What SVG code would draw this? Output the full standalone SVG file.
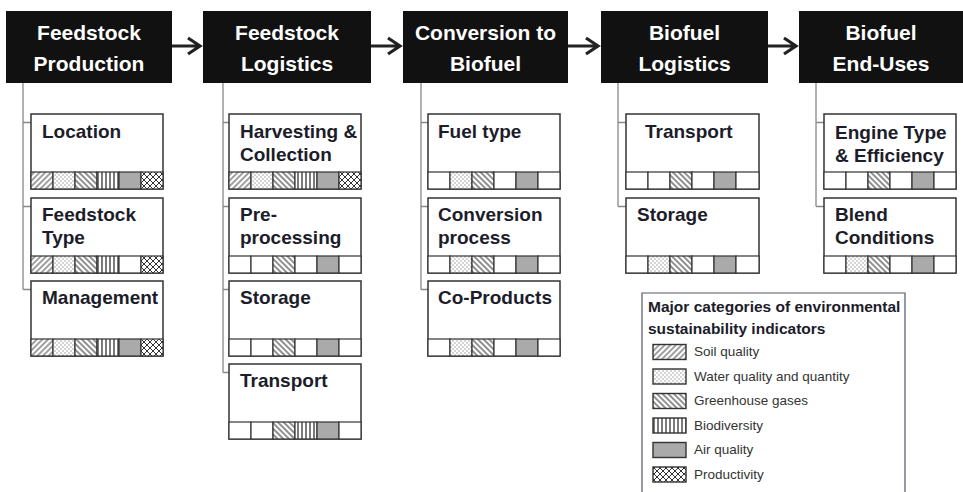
<svg xmlns="http://www.w3.org/2000/svg" width="963" height="492" viewBox="0 0 963 492">
<style>
.hdr{fill:#111}
.ht{font-family:"Liberation Sans",Arial,sans-serif;font-weight:bold;font-size:21px;fill:#fff;text-anchor:middle}
.box{fill:#fff;stroke:#333;stroke-width:1.5}
.lt{font-family:"Liberation Sans",Arial,sans-serif;font-weight:bold;font-size:19px;fill:#1c1c2a}
.c{stroke:#333;stroke-width:1.2}
.e{fill:#fff}
.S{fill:url(#soil)}
.W{fill:url(#water)}
.G{fill:url(#ghg)}
.B{fill:url(#bio)}
.A{fill:#aaa}
.P{fill:url(#prod)}
.con{fill:none;stroke:#888;stroke-width:1.3}
.arr{fill:none;stroke:#222;stroke-width:3.2}
.legt{font-family:"Liberation Sans",Arial,sans-serif;font-weight:bold;font-size:15.5px;fill:#1c1c2a}
.li{font-family:"Liberation Sans",Arial,sans-serif;font-size:13.5px;fill:#333}
.sw{stroke:#333;stroke-width:1.4}
</style>
<defs>
<pattern id="soil" patternUnits="userSpaceOnUse" width="4" height="4" patternTransform="rotate(45)">
<rect width="4" height="4" fill="#fff"/><line x1="2" y1="0" x2="2" y2="4" stroke="#777" stroke-width="1.4"/>
</pattern>
<pattern id="ghg" patternUnits="userSpaceOnUse" width="4" height="4" patternTransform="rotate(-45)">
<rect width="4" height="4" fill="#fff"/><line x1="2" y1="0" x2="2" y2="4" stroke="#555" stroke-width="1.3"/>
</pattern>
<pattern id="water" patternUnits="userSpaceOnUse" width="4" height="4">
<rect width="4" height="4" fill="#fff"/><circle cx="1" cy="1" r="0.7" fill="#888"/><circle cx="3" cy="3" r="0.7" fill="#888"/>
</pattern>
<pattern id="bio" patternUnits="userSpaceOnUse" width="4" height="4">
<rect width="4" height="4" fill="#fff"/><line x1="2" y1="0" x2="2" y2="4" stroke="#333" stroke-width="1.3"/>
</pattern>
<pattern id="prod" patternUnits="userSpaceOnUse" width="6" height="6">
<rect width="6" height="6" fill="#fff"/><path d="M0,0L6,6M6,0L0,6" stroke="#333" stroke-width="1"/>
</pattern>
</defs>
<rect width="963" height="492" fill="#fff"/>

<g id="connectors">
<path class="arr" d="M172,46H199M188,38L200,46L188,54"/>
<path class="arr" d="M371,46H399M388,38L400,46L388,54"/>
<path class="arr" d="M568,46H597M586,38L598,46L586,54"/>
<path class="arr" d="M768,46H795M784,38L796,46L784,54"/>
<path class="con" d="M23,83V289.5M23,122.5H39M23,206.5H39M23,289.5H39"/>
<path class="con" d="M223,83V372.5M223,122.5H237M223,206.5H237M223,289.5H237M223,372.5H237"/>
<path class="con" d="M421,83V289.5M421,122.5H436M421,206.5H436M421,289.5H436"/>
<path class="con" d="M618,83V206.5M618,122.5H634M618,206.5H634"/>
<path class="con" d="M816,83V206.5M816,122.5H832M816,206.5H832"/>
</g>

<g id="h1"><rect class="hdr" x="6" y="11" width="166" height="72"/><text class="ht" x="89" y="39.5">Feedstock</text><text class="ht" x="89" y="70.5">Production</text></g>
<g id="h2"><rect class="hdr" x="203" y="11" width="168" height="72"/><text class="ht" x="287" y="39.5">Feedstock</text><text class="ht" x="287" y="70.5">Logistics</text></g>
<g id="h3"><rect class="hdr" x="403" y="11" width="165" height="72"/><text class="ht" x="485.5" y="39.5">Conversion to</text><text class="ht" x="485.5" y="70.5">Biofuel</text></g>
<g id="h4"><rect class="hdr" x="601" y="11" width="167" height="72"/><text class="ht" x="684.5" y="39.5">Biofuel</text><text class="ht" x="684.5" y="70.5">Logistics</text></g>
<g id="h5"><rect class="hdr" x="799" y="11" width="164" height="72"/><text class="ht" x="881" y="39.5">Biofuel</text><text class="ht" x="881" y="70.5">End-Uses</text></g>

<!-- Column 1 -->
<g id="location"><rect class="box" x="31" y="114" width="132" height="75"/><text class="lt" x="42" y="138">Location</text>
<rect class="c S" x="31" y="172" width="22" height="17"/><rect class="c W" x="53" y="172" width="22" height="17"/><rect class="c G" x="75" y="172" width="22" height="17"/><rect class="c B" x="97" y="172" width="22" height="17"/><rect class="c A" x="119" y="172" width="22" height="17"/><rect class="c P" x="141" y="172" width="22" height="17"/></g>
<g id="feedstock-type"><rect class="box" x="31" y="198" width="132" height="75"/><text class="lt" x="42" y="220.5">Feedstock</text><text class="lt" x="42" y="243.5">Type</text>
<rect class="c S" x="31" y="256" width="22" height="17"/><rect class="c W" x="53" y="256" width="22" height="17"/><rect class="c G" x="75" y="256" width="22" height="17"/><rect class="c B" x="97" y="256" width="22" height="17"/><rect class="c e" x="119" y="256" width="22" height="17"/><rect class="c P" x="141" y="256" width="22" height="17"/></g>
<g id="management"><rect class="box" x="31" y="281" width="132" height="75"/><text class="lt" x="42" y="303.5">Management</text>
<rect class="c S" x="31" y="339" width="22" height="17"/><rect class="c W" x="53" y="339" width="22" height="17"/><rect class="c G" x="75" y="339" width="22" height="17"/><rect class="c B" x="97" y="339" width="22" height="17"/><rect class="c A" x="119" y="339" width="22" height="17"/><rect class="c P" x="141" y="339" width="22" height="17"/></g>

<!-- Column 2 -->
<g id="harvesting"><rect class="box" x="229" y="114" width="132" height="75"/><text class="lt" x="240" y="138">Harvesting &amp;</text><text class="lt" x="240" y="160.5">Collection</text>
<rect class="c S" x="229" y="172" width="22" height="17"/><rect class="c W" x="251" y="172" width="22" height="17"/><rect class="c G" x="273" y="172" width="22" height="17"/><rect class="c B" x="295" y="172" width="22" height="17"/><rect class="c A" x="317" y="172" width="22" height="17"/><rect class="c P" x="339" y="172" width="22" height="17"/></g>
<g id="preprocessing"><rect class="box" x="229" y="198" width="132" height="75"/><text class="lt" x="240" y="220.5">Pre-</text><text class="lt" x="240" y="243.5">processing</text>
<rect class="c e" x="229" y="256" width="22" height="17"/><rect class="c e" x="251" y="256" width="22" height="17"/><rect class="c G" x="273" y="256" width="22" height="17"/><rect class="c e" x="295" y="256" width="22" height="17"/><rect class="c A" x="317" y="256" width="22" height="17"/><rect class="c e" x="339" y="256" width="22" height="17"/></g>
<g id="storage1"><rect class="box" x="229" y="281" width="132" height="75"/><text class="lt" x="240" y="303.5">Storage</text>
<rect class="c e" x="229" y="339" width="22" height="17"/><rect class="c e" x="251" y="339" width="22" height="17"/><rect class="c G" x="273" y="339" width="22" height="17"/><rect class="c e" x="295" y="339" width="22" height="17"/><rect class="c A" x="317" y="339" width="22" height="17"/><rect class="c e" x="339" y="339" width="22" height="17"/></g>
<g id="transport1"><rect class="box" x="229" y="364" width="132" height="75"/><text class="lt" x="240" y="386.5">Transport</text>
<rect class="c e" x="229" y="422" width="22" height="17"/><rect class="c e" x="251" y="422" width="22" height="17"/><rect class="c G" x="273" y="422" width="22" height="17"/><rect class="c B" x="295" y="422" width="22" height="17"/><rect class="c A" x="317" y="422" width="22" height="17"/><rect class="c e" x="339" y="422" width="22" height="17"/></g>

<!-- Column 3 -->
<g id="fuel-type"><rect class="box" x="428" y="114" width="132" height="75"/><text class="lt" x="438" y="138">Fuel type</text>
<rect class="c e" x="428" y="172" width="22" height="17"/><rect class="c W" x="450" y="172" width="22" height="17"/><rect class="c G" x="472" y="172" width="22" height="17"/><rect class="c e" x="494" y="172" width="22" height="17"/><rect class="c A" x="516" y="172" width="22" height="17"/><rect class="c e" x="538" y="172" width="22" height="17"/></g>
<g id="conversion-process"><rect class="box" x="428" y="198" width="132" height="75"/><text class="lt" x="438" y="220.5">Conversion</text><text class="lt" x="438" y="243.5">process</text>
<rect class="c e" x="428" y="256" width="22" height="17"/><rect class="c W" x="450" y="256" width="22" height="17"/><rect class="c G" x="472" y="256" width="22" height="17"/><rect class="c e" x="494" y="256" width="22" height="17"/><rect class="c A" x="516" y="256" width="22" height="17"/><rect class="c e" x="538" y="256" width="22" height="17"/></g>
<g id="co-products"><rect class="box" x="428" y="281" width="132" height="75"/><text class="lt" x="438" y="303.5">Co-Products</text>
<rect class="c e" x="428" y="339" width="22" height="17"/><rect class="c W" x="450" y="339" width="22" height="17"/><rect class="c G" x="472" y="339" width="22" height="17"/><rect class="c e" x="494" y="339" width="22" height="17"/><rect class="c A" x="516" y="339" width="22" height="17"/><rect class="c e" x="538" y="339" width="22" height="17"/></g>

<!-- Column 4 -->
<g id="transport2"><rect class="box" x="626" y="114" width="133" height="75"/><text class="lt" x="645" y="138">Transport</text>
<rect class="c e" x="626" y="172" width="22" height="17"/><rect class="c e" x="648" y="172" width="22" height="17"/><rect class="c G" x="670" y="172" width="22" height="17"/><rect class="c e" x="692" y="172" width="22" height="17"/><rect class="c A" x="714" y="172" width="22" height="17"/><rect class="c e" x="736" y="172" width="23" height="17"/></g>
<g id="storage2"><rect class="box" x="626" y="198" width="133" height="75"/><text class="lt" x="637" y="220.5">Storage</text>
<rect class="c e" x="626" y="256" width="22" height="17"/><rect class="c W" x="648" y="256" width="22" height="17"/><rect class="c G" x="670" y="256" width="22" height="17"/><rect class="c e" x="692" y="256" width="22" height="17"/><rect class="c A" x="714" y="256" width="22" height="17"/><rect class="c e" x="736" y="256" width="23" height="17"/></g>

<!-- Column 5 -->
<g id="engine"><rect class="box" x="824" y="114" width="132" height="75"/><text class="lt" x="835" y="138.5">Engine Type</text><text class="lt" x="835" y="161.5">&amp; Efficiency</text>
<rect class="c e" x="824" y="172" width="22" height="17"/><rect class="c e" x="846" y="172" width="22" height="17"/><rect class="c G" x="868" y="172" width="22" height="17"/><rect class="c e" x="890" y="172" width="22" height="17"/><rect class="c A" x="912" y="172" width="22" height="17"/><rect class="c e" x="934" y="172" width="22" height="17"/></g>
<g id="blend"><rect class="box" x="824" y="198" width="132" height="75"/><text class="lt" x="835" y="221">Blend</text><text class="lt" x="835" y="244">Conditions</text>
<rect class="c e" x="824" y="256" width="22" height="17"/><rect class="c W" x="846" y="256" width="22" height="17"/><rect class="c G" x="868" y="256" width="22" height="17"/><rect class="c e" x="890" y="256" width="22" height="17"/><rect class="c A" x="912" y="256" width="22" height="17"/><rect class="c e" x="934" y="256" width="22" height="17"/></g>

<!-- Legend -->
<g id="legend">
<path d="M642,492V293H905V492" fill="#fff" stroke="#556" stroke-width="1.2"/>
<text class="legt" x="648" y="312">Major categories of environmental</text>
<text class="legt" x="648" y="333.5">sustainability indicators</text>
<rect class="sw S" x="653" y="344.5" width="33" height="15"/><text class="li" x="694" y="356">Soil quality</text>
<rect class="sw W" x="653" y="369" width="33" height="15"/><text class="li" x="694" y="380.5">Water quality and quantity</text>
<rect class="sw G" x="653" y="393.5" width="33" height="15"/><text class="li" x="694" y="405">Greenhouse gases</text>
<rect class="sw B" x="653" y="418" width="33" height="15"/><text class="li" x="694" y="429.5">Biodiversity</text>
<rect class="sw A" x="653" y="442.5" width="33" height="15"/><text class="li" x="694" y="454">Air quality</text>
<rect class="sw P" x="653" y="467" width="33" height="15"/><text class="li" x="694" y="478.5">Productivity</text>
</g>
</svg>
